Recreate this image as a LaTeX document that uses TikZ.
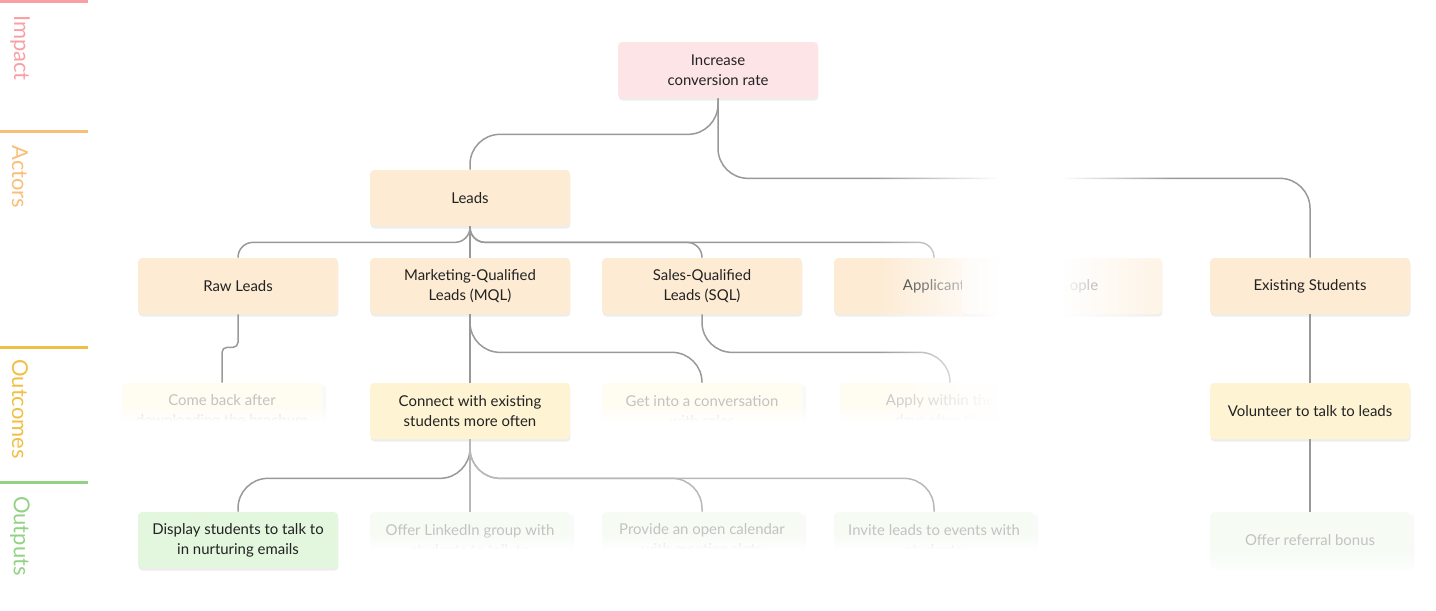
\documentclass[tikz,border=0pt]{standalone}
\usepackage{fontspec}
\setmainfont{Lato}
\usetikzlibrary{shadows,fadings}

\definecolor{ink}{HTML}{222222}
\definecolor{fadeink}{HTML}{C2C2C2}
\definecolor{linkgray}{HTML}{999999}
\definecolor{linkmid}{HTML}{B8B8B8}
\definecolor{impactcol}{HTML}{F9A0A5}
\definecolor{actorcol}{HTML}{F8BF78}
\definecolor{outcomecol}{HTML}{F0BF45}
\definecolor{outputcol}{HTML}{93D185}
\definecolor{impactfill}{HTML}{FDE4E7}
\definecolor{actorfill}{HTML}{FDEBD3}
\definecolor{actorpale}{HTML}{FEF3E4}
\definecolor{outcomefill}{HTML}{FEF3D3}
\definecolor{outputfill}{HTML}{E3F6DE}
\definecolor{outcomepale}{HTML}{FFFCF1}
\definecolor{outputpale}{HTML}{F6FCF4}

\tikzfading[name=fogin, left color=transparent!100, right color=transparent!0]
\tikzfading[name=fogout, left color=transparent!0, right color=transparent!100]
\tikzfading[name=fadedown, top color=transparent!100, bottom color=transparent!0]

\tikzset{
  cardbase/.style={rectangle, rounded corners=0.08cm, minimum width=4cm,
    minimum height=1.12cm, inner sep=0pt, align=center, text=ink,
    font=\fontsize{8.5}{11.34}\selectfont},
  card/.style={cardbase, drop shadow={shadow xshift=0.01cm, shadow yshift=-0.05cm, opacity=0.14}},
  impactcard/.style={card, fill=impactfill},
  actorcard/.style={card, fill=actorfill},
  outcomecard/.style={card, fill=outcomefill},
  outputcard/.style={card, fill=outputfill},
  palecard/.style={cardbase, text=fadeink, drop shadow={shadow yshift=-0.05cm, opacity=0.05}},
  link/.style={draw=linkgray, line width=0.03cm},
  midlink/.style={draw=linkmid, line width=0.03cm},
  lane/.style={line width=0.06cm},
  lanelabel/.style={rotate=-90, font=\fontsize{12.5}{12.5}\selectfont}
}

\begin{document}
\begin{tikzpicture}[x=0.02cm, y=-0.02cm]
\useasboundingbox (0,0) rectangle (1436,610);

% lanes on the left
\draw[lane, impactcol] (0,1.5)--(88,1.5);
\draw[lane, actorcol] (0,131)--(88,131);
\draw[lane, outcomecol] (0,347)--(88,347);
\draw[lane, outputcol] (0,482)--(88,482);
\node[lanelabel, text=impactcol] (limpact) at (20,48) {Impact};
\node[lanelabel, text=actorcol] (lactors) at (20,177) {Actors};
\node[lanelabel, text=outcomecol] (loutcomes) at (20,409) {Outcomes};
\node[lanelabel, text=outputcol] (loutputs) at (20,536) {Outputs};

% impact
\node[impactcard] (inc) at (718,70) {Increase\\conversion rate};

% actors
\node[actorcard] (leads) at (470,198) {Leads};
\node[actorcard] (raw) at (238,286) {Raw Leads};
\node[actorcard] (mql) at (470,286) {Marketing-Qualified\\Leads (MQL)};
\node[actorcard] (sql) at (702,286) {Sales-Qualified\\Leads (SQL)};
\node[actorcard] (appl) at (934,286) {Applicant};
\node[card, fill=actorpale] (ppl) at (1062,286) {};
\node[text=ink, font=\fontsize{8.5}{11.34}\selectfont] (pplname) at (1084,286) {ople};
\node[actorcard] (exist) at (1310,286) {Existing Students};

% outcomes
\node[palecard, fill=outcomepale] (comeback) at (222,411) {Come back after\\downloading the brochure};
\node[outcomecard] (connect) at (470,411) {Connect with existing\\students more often};
\node[palecard, fill=outcomepale] (getinto) at (702,411) {Get into a conversation\\with sales};
\node[palecard, fill=outcomepale] (apply) at (940,411) {Apply within the\\days after the};
\node[outcomecard] (volunteer) at (1310,411) {Volunteer to talk to leads};

% outputs
\node[outputcard] (display) at (238,540) {Display students to talk to\\in nurturing emails};
\node[palecard, fill=outputpale] (linkedin) at (470,540) {Offer LinkedIn group with\\students to talk to};
\node[palecard, fill=outputpale] (calendar) at (702,540) {Provide an open calendar\\with meeting slots};
\node[palecard, fill=outputpale] (invite) at (934,540) {Invite leads to events with\\students};
\node[palecard, fill=outputpale] (referral) at (1310,540) {Offer referral bonus};

% connectors
\draw[link, rounded corners=0.6cm] (inc.south) -- ++(0,36) -| (leads.north);
\draw[link, rounded corners=0.6cm] (inc.south) -- ++(0,80) -| (exist.north);
\foreach \t in {raw, sql, appl}
{
    \draw[link, rounded corners=0.3cm] (leads.south) -- ++(0,16) -| (\t.north);
}
\draw[link] (leads) -- (mql);
\draw[link, rounded corners=0.1cm] (raw.south) -- ++(0,33) -| (comeback.north);
\draw[link] (mql) -- (connect);
\draw[link, rounded corners=0.6cm] (mql.south) -- ++(0,38) -| (getinto.north);
\draw[link, rounded corners=0.6cm] (sql.south) -- ++(0,38) -| ([xshift=0.2cm]apply.north);
\draw[link, rounded corners=0.6cm] (connect.south) -- ++(0,39) -| (display.north);
\foreach \t in {calendar, invite}
{
    \draw[midlink, rounded corners=0.6cm] (connect.south) -- ++(0,39) -| (\t.north);
}
\draw[midlink] (connect) -- (linkedin);
\draw[link] (exist) -- (volunteer);
\draw[link] (volunteer) -- (referral);

% fading rows
\foreach \x in {222, 702, 940}
{
    \fill[white, path fading=fadedown] (\x-106,404) rectangle (\x+106,421);
    \fill[white] (\x-106,421) rectangle (\x+106,452);
}
\foreach \x in {470, 702, 934}
{
    \fill[white, path fading=fadedown] (\x-106,533) rectangle (\x+106,549);
    \fill[white] (\x-106,549) rectangle (\x+106,600);
}
\fill[white, path fading=fadedown] (1204,548) rectangle (1416,578);
\fill[white] (1204,578) rectangle (1416,610);

% fog in the middle
\fill[white, path fading=fogin] (875,150) rectangle (998,452);
\fill[white] (998,150) rectangle (1062,452);
\fill[white, path fading=fogout] (1062,150) rectangle (1172,452);
\end{tikzpicture}
\end{document}
